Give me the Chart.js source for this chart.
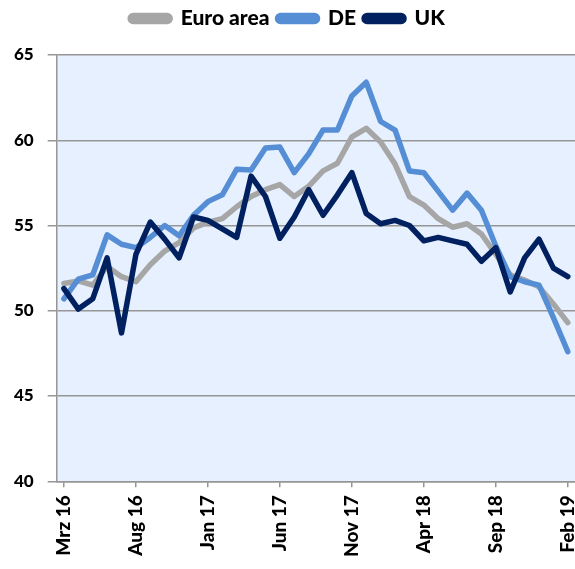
<!DOCTYPE html>
<html>
<head>
<meta charset="utf-8">
<script src="https://cdn.jsdelivr.net/npm/chart.js@4"></script>
<style>
  body { margin: 0; background: #fff; }
  #wrap { width: 575px; height: 569px; }
</style>
</head>
<body>
<div id="wrap"><canvas id="grafico"></canvas></div>
<script>
// meses (Mrz 16 .. Feb 19)
const meses = [
  'Mrz 16', 'Apr 16', 'Mai 16', 'Jun 16', 'Jul 16', 'Aug 16', 'Sep 16', 'Okt 16', 'Nov 16', 'Dez 16',
  'Jan 17', 'Feb 17', 'Mrz 17', 'Apr 17', 'Mai 17', 'Jun 17', 'Jul 17', 'Aug 17', 'Sep 17', 'Okt 17',
  'Nov 17', 'Dez 17', 'Jan 18', 'Feb 18', 'Mrz 18', 'Apr 18', 'Mai 18', 'Jun 18', 'Jul 18', 'Aug 18',
  'Sep 18', 'Okt 18', 'Nov 18', 'Dez 18', 'Jan 19', 'Feb 19'
];

const euroArea = [51.6, 51.75, 51.5, 52.6, 52.0, 51.7, 52.7, 53.5, 54.0, 54.85,
  55.2, 55.4, 56.1, 56.7, 57.1, 57.4, 56.7, 57.3, 58.2, 58.65,
  60.2, 60.7, 59.9, 58.6, 56.7, 56.2, 55.4, 54.9, 55.1, 54.5,
  53.3, 52.1, 51.8, 51.4, 50.4, 49.3];

const de = [50.7, 51.85, 52.1, 54.45, 53.9, 53.7, 54.3, 55.0, 54.4, 55.6,
  56.4, 56.8, 58.3, 58.25, 59.55, 59.6, 58.1, 59.2, 60.6, 60.6,
  62.6, 63.4, 61.1, 60.6, 58.2, 58.1, 57.0, 55.9, 56.9, 55.9,
  53.8, 52.0, 51.7, 51.5, 49.6, 47.6];

const uk = [51.3, 50.1, 50.7, 53.1, 48.7, 53.3, 55.2, 54.2, 53.1, 55.5,
  55.3, 54.8, 54.3, 57.9, 56.7, 54.25, 55.5, 57.1, 55.6, 56.8,
  58.1, 55.7, 55.1, 55.3, 55.0, 54.1, 54.3, 54.1, 53.9, 52.9,
  53.7, 51.1, 53.1, 54.2, 52.5, 52.0];

const yTicks = [40, 45, 50, 55, 60, 65];

const cinza = '#969696';

// fundo azul claro da área do gráfico
const fundo = {
  id: 'fundo',
  beforeDraw(chart) {
    const a = chart.chartArea;
    const ctx = chart.ctx;
    ctx.save();
    ctx.fillStyle = '#E6F0FE';
    ctx.fillRect(a.left, a.top, a.right - a.left, a.bottom - a.top);
    ctx.restore();
  }
};

// espaço extra abaixo da legenda
const margemLegenda = {
  id: 'margemLegenda',
  beforeInit(chart) {
    const fit = chart.legend.fit;
    chart.legend.fit = function () {
      fit.bind(chart.legend)();
      this.height += 16;
    };
  }
};

function serie(label, data, color, order) {
  return {
    label: label,
    data: data,
    borderColor: color,
    backgroundColor: color,
    borderWidth: 5.5,
    pointRadius: 0,
    tension: 0,
    borderJoinStyle: 'round',
    borderCapStyle: 'round',
    order: order
  };
}

new Chart(document.getElementById('grafico'), {
  type: 'line',
  data: {
    labels: meses,
    datasets: [
      serie('Euro area', euroArea, '#A6A6A6', 3),
      serie('DE', de, '#558ED5', 2),
      serie('UK', uk, '#002060', 1)
    ]
  },
  plugins: [fundo, margemLegenda],
  options: {
    responsive: true,
    maintainAspectRatio: false,
    animation: false,
    layout: { padding: { left: 0, top: 0, right: 0, bottom: 4 } },
    plugins: {
      legend: {
        position: 'top',
        labels: {
          boxWidth: 40,
          boxHeight: 6,
          useBorderRadius: true,
          borderRadius: 3,
          padding: 8,
          color: '#000',
          font: { family: 'Lato', size: 21, weight: 900 },
          sort: (a, b) => a.datasetIndex - b.datasetIndex
        }
      },
      tooltip: { enabled: false }
    },
    scales: {
      x: {
        offset: true,
        afterFit: (s) => { s.paddingRight = 0; },
        ticks: {
          autoSkip: false,
          maxRotation: 90,
          minRotation: 90,
          padding: 8,
          color: '#000',
          font: { family: 'Lato', size: 19, weight: 900 },
          callback: (v, i) => (i % 5 === 0 ? meses[i] : '')
        },
        grid: {
          drawOnChartArea: false,
          tickLength: 6,
          lineWidth: 1.5,
          color: (c) => (c.index % 5 === 0 ? cinza : 'rgba(0,0,0,0)')
        },
        border: { color: cinza, width: 1.5 }
      },
      y: {
        min: 40,
        max: 65,
        afterBuildTicks: (s) => { s.ticks = yTicks.map(v => ({ value: v })); },
        ticks: {
          color: '#000',
          padding: 14,
          font: { family: 'Lato', size: 17, weight: 900 }
        },
        grid: { color: cinza, lineWidth: 1.5, tickLength: 9 },
        border: { color: cinza, width: 1.5 }
      }
    }
  }
});
</script>
</body>
</html>
